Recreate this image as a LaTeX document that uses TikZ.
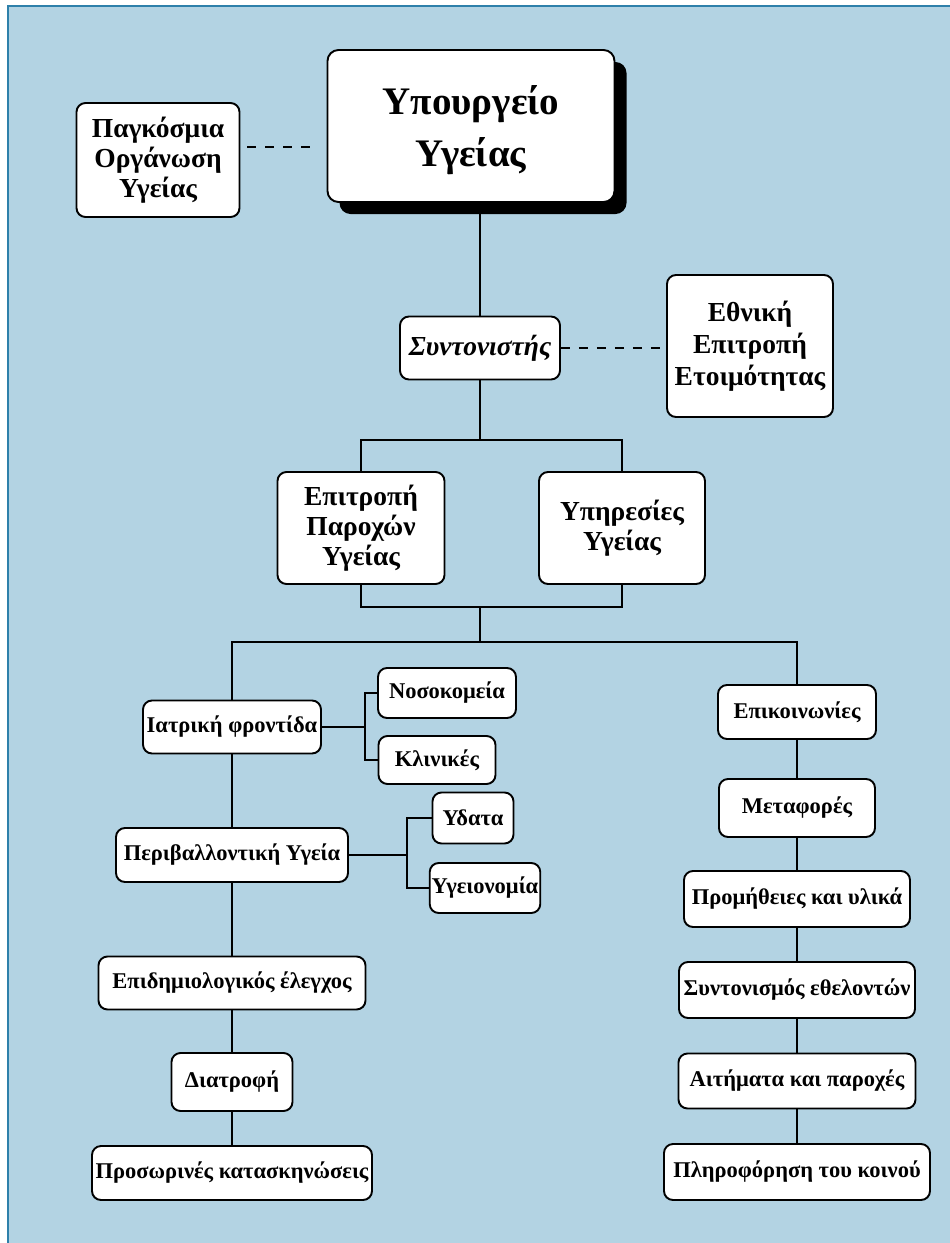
\documentclass[tikz,border=0pt]{standalone}
\usepackage{fontspec}
\setmainfont{Liberation Serif}
\usepackage{xcolor}
\usepackage{tikz}
\usetikzlibrary{positioning,shadows}
\definecolor{chartbg}{RGB}{179,211,227}
\definecolor{chartrim}{RGB}{46,128,170}

\begin{document}
\begin{tikzpicture}[
  x=1pt, y=-1pt,
  unit/.style={draw, line width=1.9pt, rounded corners=9pt, fill=white, align=center, inner sep=2pt,
    font=\bfseries\fontsize{22.5}{26}\selectfont},
  group/.style={unit, font=\bfseries\fontsize{27.5}{30}\selectfont},
  link/.style={line width=1.9pt},
  dashlink/.style={line width=1.9pt, dash pattern=on 9pt off 9pt}]
\useasboundingbox (0,0) rectangle (950,1243);
\fill[chartbg] (8,6) rectangle (950,1243);
\draw[chartrim, line width=2pt] (8,1243) -- (8,6) -- (950,6);
% top level
\node[unit, rounded corners=11pt, minimum width=287pt, minimum height=152pt,
  font=\bfseries\fontsize{39}{52}\selectfont,
  drop shadow={shadow xshift=12pt, shadow yshift=-12pt, opacity=1, fill=black}] (ministry) at (471,126) {\strut Υπουργείο\\Υγείας};
\node[group, minimum width=163pt, minimum height=114pt] (who) at (158,160) {Παγκόσμια\\Οργάνωση\\Υγείας};
\node[group, minimum width=160pt, minimum height=63pt, font=\bfseries\itshape\fontsize{27.5}{30}\selectfont] (coord) at (480,348) {Συντονιστής};
\node[group, minimum width=166pt, minimum height=142pt, font=\bfseries\fontsize{27.5}{32}\selectfont] (national) at (750,346) {Εθνική\\Επιτροπή\\Ετοιμότητας};
\node[group, minimum width=167pt, minimum height=112pt] (provide) at (361,528) {Επιτροπή\\Παροχών\\Υγείας};
\node[group, minimum width=166pt, minimum height=112pt] (services) at (622,528) {Υπηρεσίες\\Υγείας};
% left column
\node[unit, minimum width=178pt, minimum height=53pt] (medical) at (232,727) {Ιατρική φροντίδα};
\node[unit, minimum width=138pt, minimum height=50pt] (hospital) at (447,693) {Νοσοκομεία};
\node[unit, minimum width=117pt, minimum height=48pt] (clinic) at (437,760) {Κλινικές};
\node[unit, minimum width=232pt, minimum height=54pt] (environ) at (232,855) {Περιβαλλοντική Υγεία};
\node[unit, minimum width=81pt, minimum height=51pt] (water) at (473,818) {Υδατα};
\node[unit, minimum width=110pt, minimum height=50pt] (sanit) at (485,888) {Υγειονομία};
\node[unit, minimum width=267pt, minimum height=53pt] (epidem) at (232,983) {Επιδημιολογικός έλεγχος};
\node[unit, minimum width=121pt, minimum height=58pt] (food) at (232,1082) {Διατροφή};
\node[unit, minimum width=280pt, minimum height=54pt] (camps) at (232,1173) {Προσωρινές κατασκηνώσεις};
% right column
\node[unit, minimum width=158pt, minimum height=54pt] (comms) at (797,712) {Επικοινωνίες};
\node[unit, minimum width=156pt, minimum height=58pt] (transp) at (797,808) {Μεταφορές};
\node[unit, minimum width=226pt, minimum height=56pt] (supply) at (797,899) {Προμήθειες και υλικά};
\node[unit, minimum width=236pt, minimum height=56pt] (volunt) at (797,990) {Συντονισμός εθελοντών};
\node[unit, minimum width=237pt, minimum height=55pt] (claims) at (797,1081) {Αιτήματα και παροχές};
\node[unit, minimum width=266pt, minimum height=56pt] (public) at (797,1172) {Πληροφόρηση του κοινού};
% connectors
\coordinate (split1) at (480,440);
\coordinate (join1) at (480,607);
\coordinate (split2) at (480,642);
\coordinate (fork1) at (365,727);
\coordinate (fork2) at (407,855);
\draw[dashlink, shorten <=7pt, shorten >=8pt] ([yshift=13pt]who.east) -- ([yshift=13pt]who.east -| ministry.west);
\draw[link] (coord.north) -- (coord.north |- ministry.south);
\draw[dashlink] (coord.east) -- (coord.east -| national.west);
\draw[link] (coord.south) -- (split1);
\draw[link] (provide.north) |- (split1) -| (services.north);
\draw[link] (provide.south) |- (join1) -| (services.south);
\draw[link] (join1) -- (split2);
\draw[link] (medical.north) |- (split2) -| (comms.north);
\draw[link] (medical) -- (environ); \draw[link] (environ) -- (epidem);
\draw[link] (epidem) -- (food); \draw[link] (food) -- (camps);
\draw[link] (medical.east) -- (fork1);
\draw[link] (hospital.west) -| (fork1) |- (clinic.west);
\draw[link] (environ.east) -- (fork2);
\draw[link] (water.west) -| (fork2) |- (sanit.west);
\draw[link] (comms) -- (transp); \draw[link] (transp) -- (supply);
\draw[link] (supply) -- (volunt); \draw[link] (volunt) -- (claims);
\draw[link] (claims) -- (public);
\end{tikzpicture}
\end{document}
